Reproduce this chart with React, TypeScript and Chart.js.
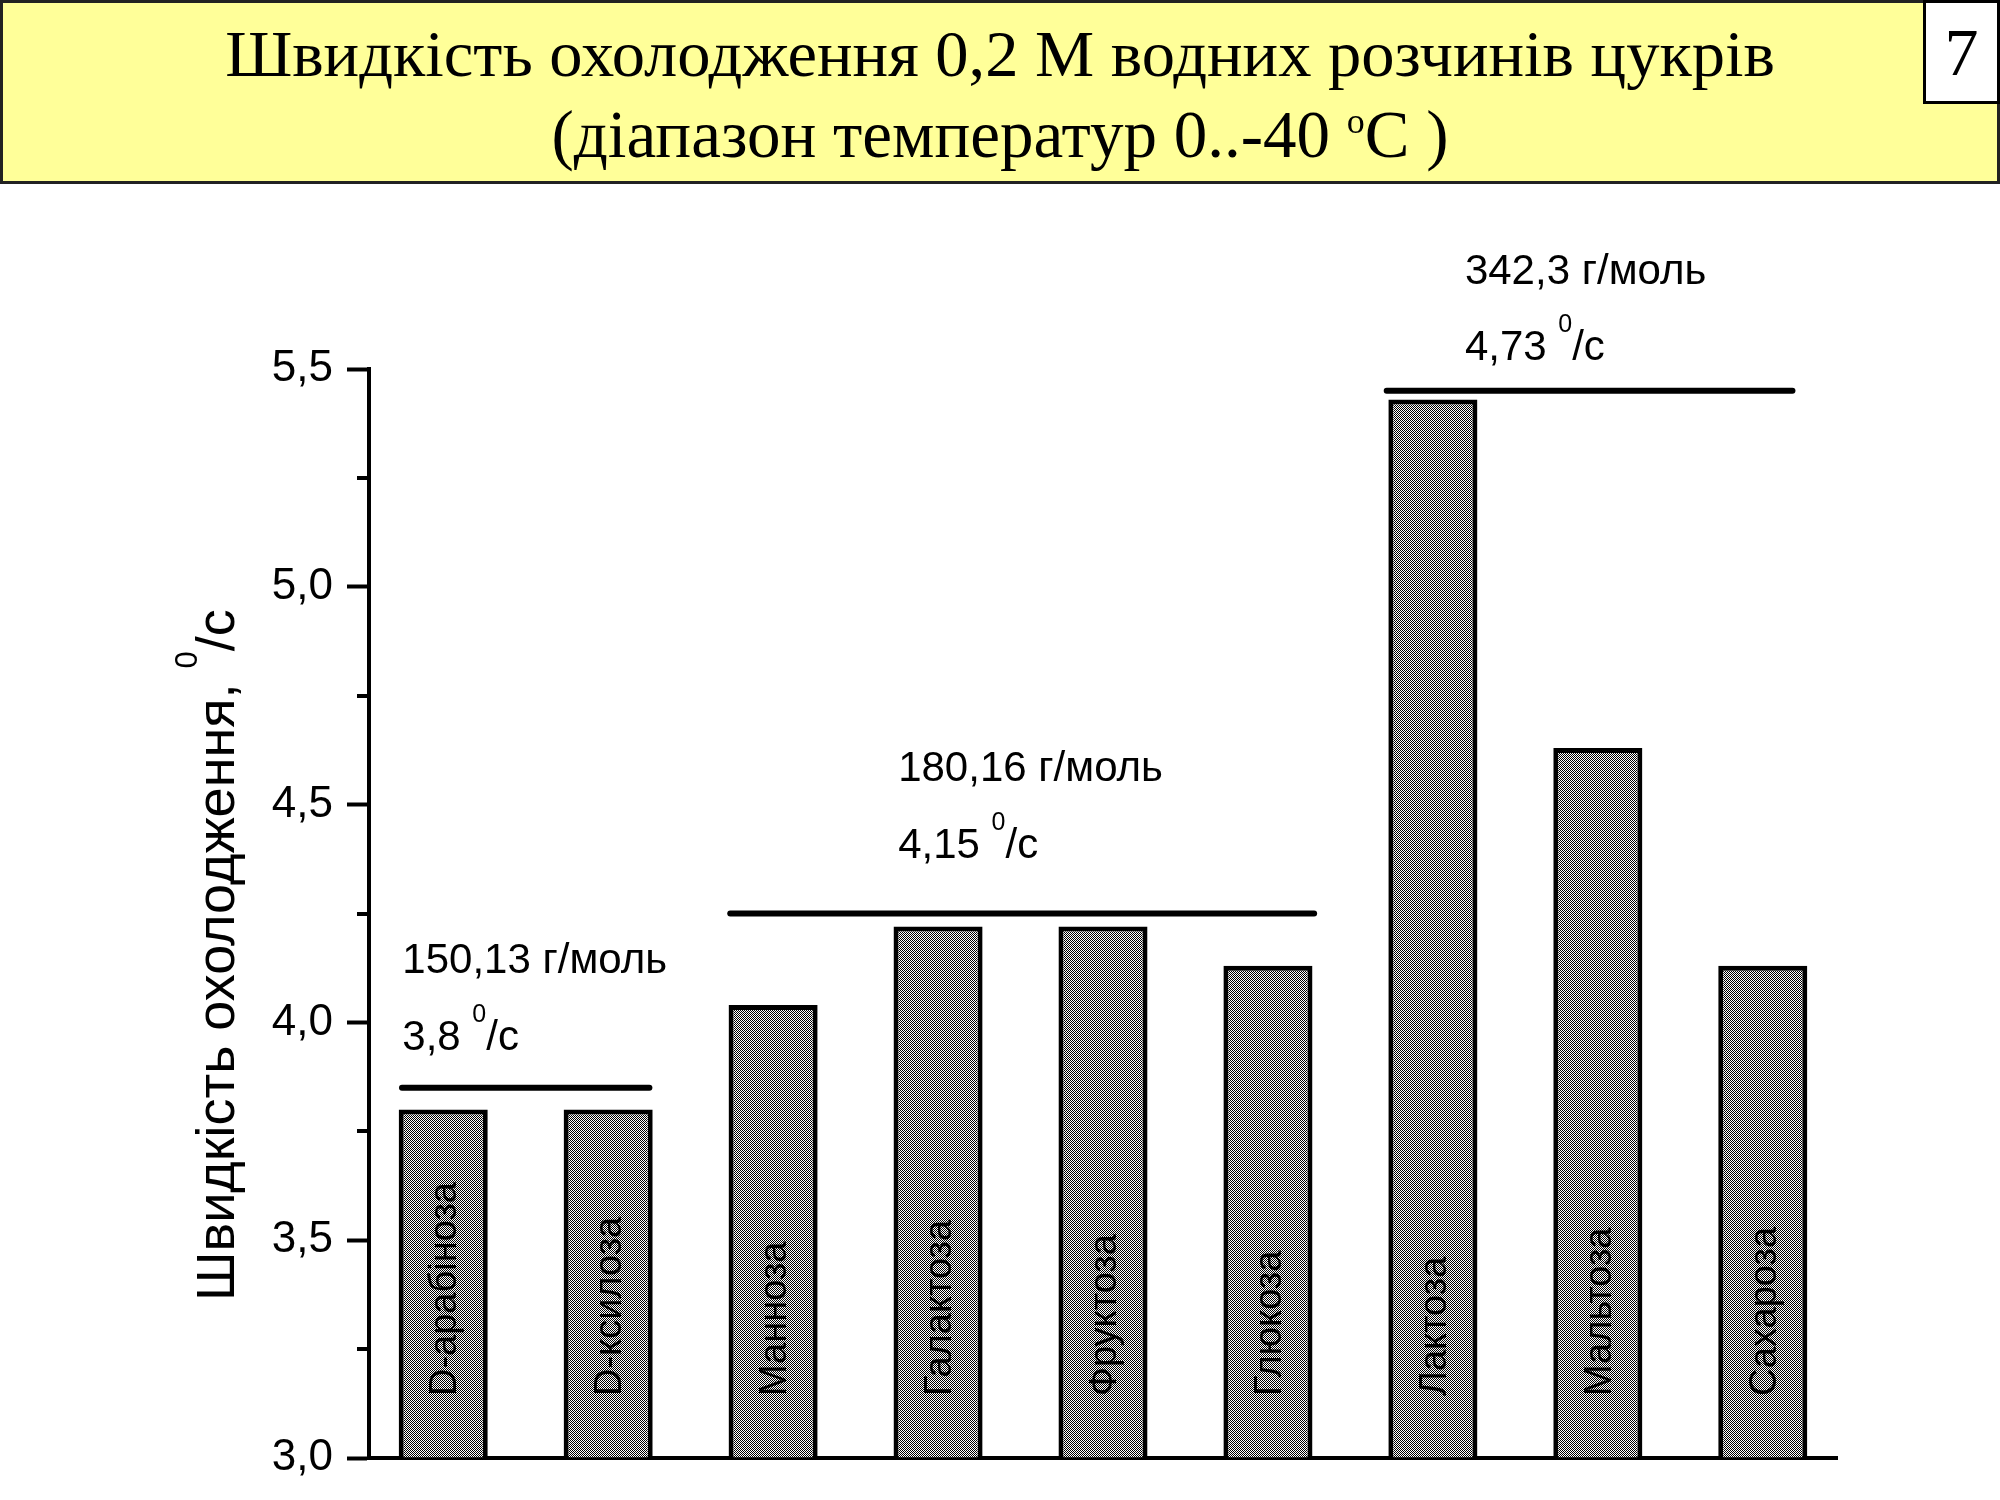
import React, { useEffect, useRef } from 'react';
import { Chart, registerables } from 'chart.js';

Chart.register(...registerables);

// ---------- data ----------
const sugars = [
  'D-арабіноза',
  'D-ксилоза',
  'Манноза',
  'Галактоза',
  'Фруктоза',
  'Глюкоза',
  'Лактоза',
  'Мальтоза',
  'Сахароза',
];
const coolingRates = [3.8, 3.8, 4.04, 4.22, 4.22, 4.13, 5.43, 4.63, 4.13];

const groupMasses = ['150,13 г/моль', '180,16 г/моль', '342,3 г/моль'];
const groupMeanRates = ['3,8', '4,15', '4,73'];
const groupLineLevels = [3.85, 4.25, 5.45];

const yMin = 3.0;
const yMax = 5.5;
const yStep = 0.25;

const titleLine1 = 'Швидкість охолодження 0,2 М водних розчинів цукрів';
const titleLine2a = '(діапазон температур 0..-40 ';
const titleLine2sup = 'o';
const titleLine2b = 'C )';
const slideNumber = '7';
const yTitleMain = 'Швидкість охолодження, ';
const yTitleSup = '0';
const yTitleEnd = '/с';

// ---------- layout (data-unit anchors for annotations) ----------
const groupLineFrom = [0.75, 2.74, 6.72];
const groupLineTo = [2.25, 6.28, 9.18];
const groupTextX = [0.752, 3.758, 7.194];
const groupMassBaseline = [4.113, 4.554, 5.695];
const groupRateBaseline = [3.937, 4.377, 5.521];

const SANS = '"Liberation Sans", Arial, sans-serif';
const SERIF = '"Liberation Serif", "Times New Roman", serif';

function drawParts(ctx: CanvasRenderingContext2D, parts: [string, number, number][]) {
  let cx = 0;
  for (const [t, size, dy] of parts) {
    ctx.font = `${size}px ${SANS}`;
    ctx.fillText(t, cx, dy);
    cx += ctx.measureText(t).width;
  }
}

const isMajor = (n: number) => Math.abs(n * 2 - Math.round(n * 2)) < 1e-6;

const annotationPlugin = {
  id: 'sugarAnnotations',
  afterDatasetsDraw(chart: any) {
    const { ctx, chartArea } = chart;
    const x = chart.scales.x;
    const y = chart.scales.y;
    ctx.save();
    ctx.fillStyle = '#000';
    ctx.strokeStyle = '#000';

    // minor ticks
    ctx.lineWidth = 4;
    ctx.lineCap = 'butt';
    y.ticks.forEach((t: any) => {
      if (!isMajor(t.value)) {
        const py = Math.round(y.getPixelForValue(t.value));
        ctx.beginPath();
        ctx.moveTo(chartArea.left - 12, py);
        ctx.lineTo(chartArea.left, py);
        ctx.stroke();
      }
    });

    // rotated bar labels
    const meta = chart.getDatasetMeta(0);
    ctx.textAlign = 'left';
    ctx.textBaseline = 'alphabetic';
    ctx.font = `38px ${SANS}`;
    meta.data.forEach((bar: any, i: number) => {
      ctx.save();
      ctx.translate(bar.x + 13, chartArea.bottom - 62);
      ctx.rotate(-Math.PI / 2);
      ctx.fillText(sugars[i], 0, 0);
      ctx.restore();
    });

    // group lines
    ctx.lineWidth = 6;
    ctx.lineCap = 'round';
    groupLineLevels.forEach((lvl, g) => {
      const py = y.getPixelForValue(lvl);
      ctx.beginPath();
      ctx.moveTo(x.getPixelForValue(groupLineFrom[g]), py);
      ctx.lineTo(x.getPixelForValue(groupLineTo[g]), py);
      ctx.stroke();
    });

    // group texts
    groupMasses.forEach((mass, g) => {
      const px = x.getPixelForValue(groupTextX[g]);
      ctx.save();
      ctx.translate(px, y.getPixelForValue(groupMassBaseline[g]));
      drawParts(ctx, [[mass, 42, 0]]);
      ctx.restore();
      ctx.save();
      ctx.translate(px, y.getPixelForValue(groupRateBaseline[g]));
      drawParts(ctx, [
        [groupMeanRates[g] + ' ', 42, 0],
        ['0', 25, -28],
        ['/с', 42, 0],
      ]);
      ctx.restore();
    });

    // y axis title
    ctx.save();
    ctx.translate(chartArea.left - 135, chartArea.bottom - 157);
    ctx.rotate(-Math.PI / 2);
    drawParts(ctx, [
      [yTitleMain, 54, 0],
      [yTitleSup, 31, -37],
      [yTitleEnd, 54, 0],
    ]);
    ctx.restore();

    ctx.restore();
  },
};

export default function App() {
  const canvasRef = useRef<HTMLCanvasElement | null>(null);

  useEffect(() => {
    document.body.style.margin = '0';
    const canvas = canvasRef.current;
    if (!canvas) return;
    const c2d = canvas.getContext('2d') as CanvasRenderingContext2D;

    const pc = document.createElement('canvas');
    pc.width = 2;
    pc.height = 2;
    const p = pc.getContext('2d') as CanvasRenderingContext2D;
    p.fillStyle = '#ffffff';
    p.fillRect(0, 0, 2, 2);
    p.fillStyle = '#000000';
    p.fillRect(0, 0, 1, 1);
    p.fillRect(1, 1, 1, 1);
    const pattern = c2d.createPattern(pc, 'repeat');

    Chart.defaults.font.family = SANS;

    const chart = new Chart(canvas, {
      type: 'bar',
      data: {
        datasets: [
          {
            data: coolingRates.map((v, i) => ({ x: i + 1, y: v })),
            backgroundColor: pattern as any,
            borderColor: '#000',
            borderWidth: 5,
            base: yMin,
            categoryPercentage: 1,
            barPercentage: 0.54,
          } as any,
        ],
      },
      options: {
        animation: false,
        responsive: false,
        devicePixelRatio: 1,
        layout: { padding: { left: 0, top: 369, right: 163, bottom: 0 } },
        plugins: { legend: { display: false }, tooltip: { enabled: false }, title: { display: false } },
        scales: {
          x: {
            type: 'linear',
            offset: false,
            min: 0.55,
            max: 9.45,
            ticks: { display: false, stepSize: 1, includeBounds: false },
            grid: { display: false },
            border: { display: true, color: '#000', width: 4 },
            afterFit: (s: any) => {
              s.height = 42;
            },
          },
          y: {
            type: 'linear',
            min: yMin,
            max: yMax,
            ticks: {
              stepSize: yStep,
              color: '#000',
              padding: 14,
              font: { size: 44, family: SANS },
              callback: (v: any) => {
                const n = Number(v);
                return isMajor(n) ? n.toFixed(1).replace('.', ',') : '';
              },
            },
            grid: {
              drawOnChartArea: false,
              drawTicks: true,
              tickLength: 22,
              tickWidth: 4,
              tickColor: (ctx: any) => (ctx.tick && isMajor(ctx.tick.value) ? '#000' : 'rgba(0,0,0,0)'),
            },
            border: { display: true, color: '#000', width: 4 },
            afterFit: (s: any) => {
              s.width = 369;
            },
          },
        },
      },
      plugins: [annotationPlugin],
    });

    return () => chart.destroy();
  }, []);

  return (
    <div style={{ position: 'relative', width: 2000, height: 1500, background: '#fff', overflow: 'hidden' }}>
      <canvas
        ref={canvasRef}
        width={2000}
        height={1500}
        style={{ position: 'absolute', left: 0, top: 0, width: 2000, height: 1500, display: 'block' }}
      />
      <div
        style={{
          position: 'absolute',
          left: 0,
          top: 0,
          width: 2000,
          height: 184,
          boxSizing: 'border-box',
          border: '3px solid #222',
          background: '#FFFF99',
        }}
      />
      <div
        style={{
          position: 'absolute',
          left: 0,
          top: 14,
          width: 2000,
          textAlign: 'center',
          fontFamily: SERIF,
          fontSize: 67,
          lineHeight: '80px',
          color: '#000',
          whiteSpace: 'nowrap',
        }}
      >
        <div style={{ fontSize: 66.5 }}>{titleLine1}</div>
        <div>
          {titleLine2a}
          <span style={{ fontSize: 36, position: 'relative', top: -24 }}>{titleLine2sup}</span>
          {titleLine2b}
        </div>
      </div>
      <div
        style={{
          position: 'absolute',
          left: 1923,
          top: 0,
          width: 77,
          height: 104,
          boxSizing: 'border-box',
          border: '3px solid #000',
          background: '#fff',
          fontFamily: SERIF,
          fontSize: 68,
          lineHeight: '98px',
          textAlign: 'center',
          color: '#000',
        }}
      >
        {slideNumber}
      </div>
    </div>
  );
}
